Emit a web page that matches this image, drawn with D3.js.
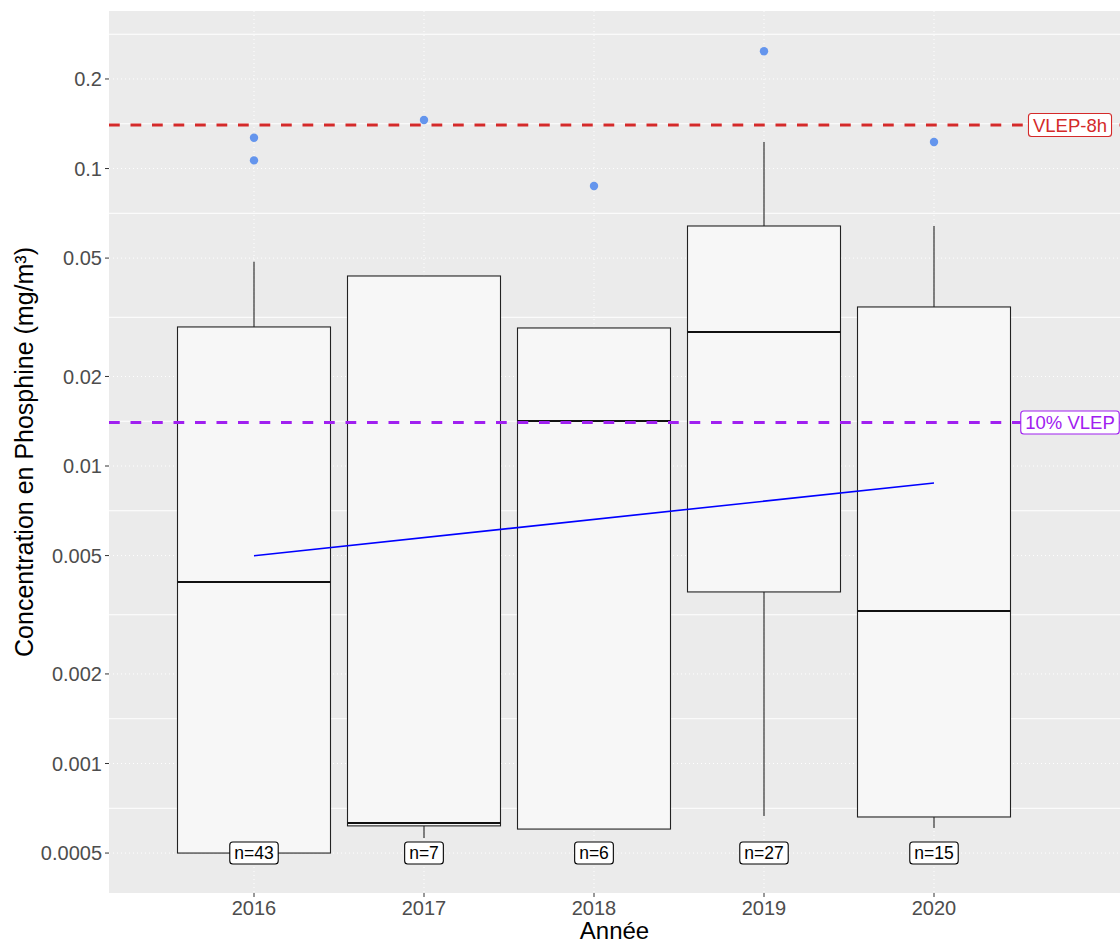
<!DOCTYPE html>
<html>
<head>
<meta charset="utf-8">
<script src="https://cdn.jsdelivr.net/npm/d3@7"></script>
<style>
  body { margin: 0; background: #fff; }
  text { font-family: "Liberation Sans", Arial, sans-serif; }
</style>
</head>
<body>
<div id="chart"></div>
<script>
// data
const years = [2016, 2017, 2018, 2019, 2020];
const counts = [43, 7, 6, 27, 15];
const whiskerLow = [0.0005, 0.000562, 0.000602, 0.000666, 0.000607];
const q1 = [0.0005, 0.000617, 0.000602, 0.003773, 0.000661];
const medians = [0.004075, 0.000631, 0.01417, 0.02822, 0.003257];
const q3 = [0.02934, 0.04353, 0.02911, 0.0641, 0.03425];
const whiskerHigh = [0.04862, 0.04353, 0.02911, 0.1228, 0.0641];
const outliers = [[0.1269, 0.1065], [0.1456], [0.0874], [0.2478], [0.1228]];
const trendYears = [2016, 2020];
const trendValues = [0.00499, 0.00877];
const refLines = [
  { label: "VLEP-8h", value: 0.14, color: "#d42a2a" },
  { label: "10% VLEP", value: 0.014, color: "#a020f0" }
];
const yBreaks = [0.0005, 0.001, 0.002, 0.005, 0.01, 0.02, 0.05, 0.1, 0.2];
const yBreakLabels = ["0.0005", "0.001", "0.002", "0.005", "0.01", "0.02", "0.05", "0.1", "0.2"];
const yMinor = [0.000707, 0.001414, 0.003162, 0.007071, 0.01414, 0.03162, 0.07071, 0.1414, 0.2828];

const width = 1120, height = 945;
const panel = { left: 109, right: 1120, top: 11, bottom: 893 };

const svg = d3.select("#chart").append("svg")
    .attr("width", width)
    .attr("height", height);

const x = d3.scaleLinear()
    .domain([2016 - 145 / 170, 2020 + 186 / 170])
    .range([panel.left, panel.right]);

const y = d3.scaleLog()
    .domain([0.000367, 0.3385])
    .range([panel.bottom, panel.top]);

const boxHalf = 0.45;

// panel background
svg.append("rect")
    .attr("x", panel.left)
    .attr("y", panel.top)
    .attr("width", panel.right - panel.left)
    .attr("height", panel.bottom - panel.top)
    .attr("fill", "#ebebeb");

const grid = svg.append("g");
grid.selectAll("line.minor")
    .data(yMinor)
    .enter().append("line")
    .attr("x1", panel.left).attr("x2", panel.right)
    .attr("y1", d => y(d)).attr("y2", d => y(d))
    .attr("stroke", "#fff")
    .attr("stroke-width", 1);
grid.selectAll("line.major")
    .data(yBreaks)
    .enter().append("line")
    .attr("x1", panel.left).attr("x2", panel.right)
    .attr("y1", d => y(d)).attr("y2", d => y(d))
    .attr("stroke", "#fff")
    .attr("stroke-width", 1)
    .attr("stroke-dasharray", "1,3");
grid.selectAll("line.vmajor")
    .data(years)
    .enter().append("line")
    .attr("x1", d => x(d)).attr("x2", d => x(d))
    .attr("y1", panel.top).attr("y2", panel.bottom)
    .attr("stroke", "#fff")
    .attr("stroke-width", 1)
    .attr("stroke-dasharray", "1,3");

// boxplots
const boxes = svg.append("g")
    .selectAll("g")
    .data(years)
    .enter().append("g");

boxes.append("line")
    .attr("x1", d => x(d)).attr("x2", d => x(d))
    .attr("y1", (d, i) => y(q3[i])).attr("y2", (d, i) => y(whiskerHigh[i]))
    .attr("stroke", "#222").attr("stroke-width", 1.1);
boxes.append("line")
    .attr("x1", d => x(d)).attr("x2", d => x(d))
    .attr("y1", (d, i) => y(q1[i])).attr("y2", (d, i) => y(whiskerLow[i]))
    .attr("stroke", "#222").attr("stroke-width", 1.1);
boxes.append("rect")
    .attr("x", d => x(d - boxHalf))
    .attr("width", d => x(d + boxHalf) - x(d - boxHalf))
    .attr("y", (d, i) => y(q3[i]))
    .attr("height", (d, i) => y(q1[i]) - y(q3[i]))
    .attr("fill", "#f7f7f7")
    .attr("stroke", "#222")
    .attr("stroke-width", 1.1);
boxes.append("line")
    .attr("x1", d => x(d - boxHalf)).attr("x2", d => x(d + boxHalf))
    .attr("y1", (d, i) => y(medians[i])).attr("y2", (d, i) => y(medians[i]))
    .attr("stroke", "#111").attr("stroke-width", 2);
boxes.selectAll("circle")
    .data((d, i) => outliers[i].map(v => ({ year: d, v })))
    .enter().append("circle")
    .attr("cx", d => x(d.year))
    .attr("cy", d => y(d.v))
    .attr("r", 4.2)
    .attr("fill", "#6495ed");

// trend line
const line = d3.line()
    .x(d => x(d[0]))
    .y(d => y(d[1]));
svg.append("path")
    .datum(trendYears.map((yr, i) => [yr, trendValues[i]]))
    .attr("d", line)
    .attr("fill", "none")
    .attr("stroke", "#0000ff")
    .attr("stroke-width", 1.6);

// reference lines
svg.selectAll("line.ref")
    .data(refLines)
    .enter().append("line")
    .attr("x1", panel.left).attr("x2", panel.right)
    .attr("y1", d => y(d.value)).attr("y2", d => y(d.value))
    .attr("stroke", d => d.color)
    .attr("stroke-width", 3)
    .attr("stroke-dasharray", "10.75,10.75");

function addLabel(g, cx, cy, txt, color, fs, pad) {
    const t = g.append("text")
        .attr("x", cx).attr("y", cy)
        .attr("text-anchor", "middle")
        .attr("dy", "0.36em")
        .attr("font-size", fs)
        .attr("fill", color)
        .text(txt);
    const w = t.node().getComputedTextLength();
    const h = fs + 4.5;
    g.insert("rect", "text")
        .attr("x", cx - w / 2 - pad)
        .attr("y", cy - h / 2)
        .attr("width", w + 2 * pad)
        .attr("height", h)
        .attr("rx", 3)
        .attr("fill", "#fff")
        .attr("stroke", color)
        .attr("stroke-width", 1.1);
}

refLines.forEach(d => {
    const g = svg.append("g");
    addLabel(g, x(2020.8), y(d.value), d.label, d.color, 18.5, 4.5);
});

years.forEach((yr, i) => {
    const g = svg.append("g");
    addLabel(g, x(yr), y(0.0005), "n=" + counts[i], "#000", 17.5, 4.5);
});

// axes
const yAxis = svg.append("g");
yAxis.selectAll("line")
    .data(yBreaks)
    .enter().append("line")
    .attr("x1", panel.left - 4).attr("x2", panel.left)
    .attr("y1", d => y(d)).attr("y2", d => y(d))
    .attr("stroke", "#333").attr("stroke-width", 1);
yAxis.selectAll("text")
    .data(yBreaks)
    .enter().append("text")
    .attr("x", panel.left - 7)
    .attr("y", d => y(d))
    .attr("dy", "0.36em")
    .attr("text-anchor", "end")
    .attr("font-size", 20)
    .attr("fill", "#4d4d4d")
    .text((d, i) => yBreakLabels[i]);

const xAxis = svg.append("g");
xAxis.selectAll("line")
    .data(years)
    .enter().append("line")
    .attr("x1", d => x(d)).attr("x2", d => x(d))
    .attr("y1", panel.bottom).attr("y2", panel.bottom + 4)
    .attr("stroke", "#333").attr("stroke-width", 1);
xAxis.selectAll("text")
    .data(years)
    .enter().append("text")
    .attr("x", d => x(d))
    .attr("y", 915)
    .attr("text-anchor", "middle")
    .attr("font-size", 20)
    .attr("fill", "#4d4d4d")
    .text(d => d);

svg.append("text")
    .attr("x", (panel.left + panel.right) / 2)
    .attr("y", 939)
    .attr("text-anchor", "middle")
    .attr("font-size", 24)
    .attr("fill", "#000")
    .text("Année");

svg.append("text")
    .attr("transform", `translate(33, ${(panel.top + panel.bottom) / 2}) rotate(-90)`)
    .attr("text-anchor", "middle")
    .attr("font-size", 25)
    .attr("fill", "#000")
    .text("Concentration en Phosphine (mg/m³)");
</script>
</body>
</html>
